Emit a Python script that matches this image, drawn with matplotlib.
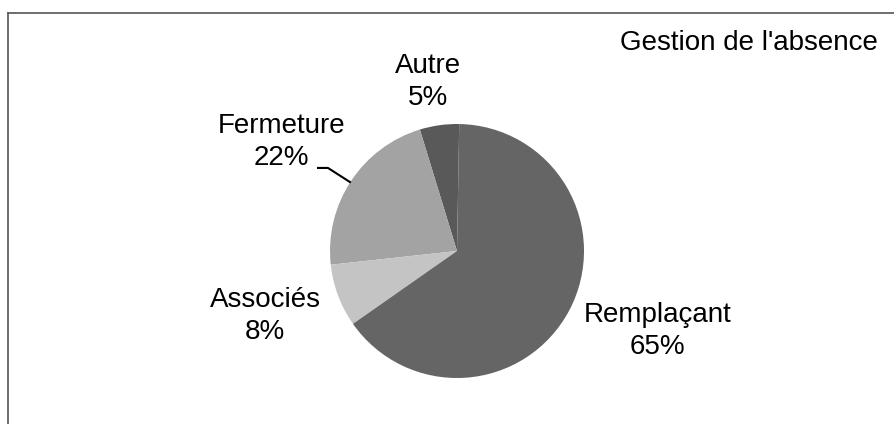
import matplotlib.pyplot as plt
from matplotlib.lines import Line2D

plt.rcParams['font.family'] = ['Liberation Sans', 'DejaVu Sans']

# data (counter-clockwise from the top)
labels = ["Autre", "Fermeture", "Associés", "Remplaçant"]
shares = [5, 22, 8, 65]
colors = ["#595959", "#a3a3a3", "#c4c4c4", "#656565"]
title = "Gestion de l'absence"

# label block centres in pie units (radius = 1)
label_pos = [(-0.23, 1.33), (-1.38, 0.86), (-1.51, -0.51), (1.58, -0.63)]

W, H = 894, 424
fig = plt.figure(figsize=(W / 100, H / 100), dpi=100)

# pie centre ~ (457, 251) px, radius ~127 px
cx, cy, r = 457, 251, 127
ax = fig.add_axes([(cx - r) / W, (H - cy - r) / H, 2 * r / W, 2 * r / H])
ax.pie(shares, colors=colors, startangle=89, counterclock=True,
       wedgeprops=dict(linewidth=0))
ax.set_xlim(-1, 1)
ax.set_ylim(-1, 1)
ax.set_aspect('equal')
ax.axis('off')

for name, val, (x, y) in zip(labels, shares, label_pos):
    ax.text(x, y, f"{name}\n{val}%", ha='center', va='center',
            fontsize=20, linespacing=1.3, clip_on=False)

# leader line for Fermeture
ax.add_line(Line2D([-1.094, -1.016, -0.843], [0.654, 0.654, 0.543],
                   color='black', lw=1.5, clip_on=False))

fig.text(749 / W, 1 - 43 / H, title, ha='center', va='center', fontsize=20)

# scanned frame: only top and left edges are visible
fig.add_artist(Line2D([8 / W, 1], [1 - 13 / H, 1 - 13 / H],
                      color='#555555', lw=1.2, transform=fig.transFigure))
fig.add_artist(Line2D([8 / W, 8 / W], [0, 1 - 13 / H],
                      color='#555555', lw=1.2, transform=fig.transFigure))

fig.savefig("out.png", dpi=100)
